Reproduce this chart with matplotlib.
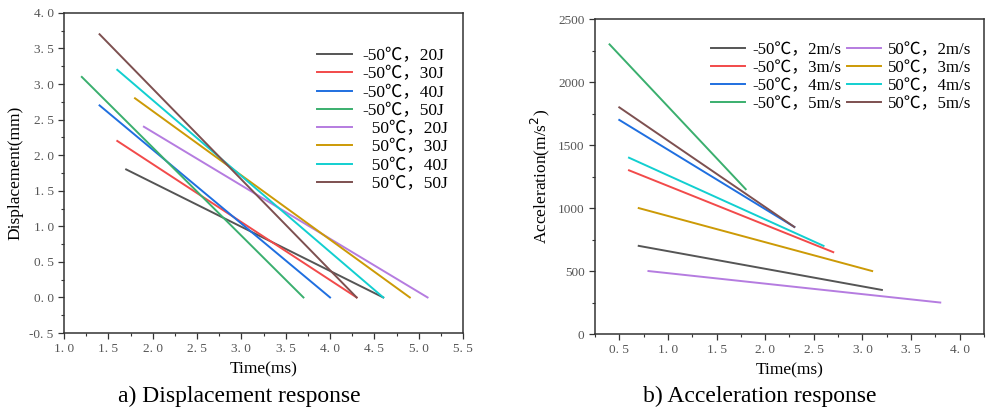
import numpy as np
import matplotlib
matplotlib.use("Agg")
import matplotlib.pyplot as plt
from matplotlib.ticker import MultipleLocator, FuncFormatter

plt.rcParams['font.family'] = ['Liberation Serif', 'Noto Sans CJK SC', 'DejaVu Sans']

colors = ['#555555', '#f24a4a', '#1f6fe0', '#3aaf6e', '#b57ce0', '#cc9a06', '#12cfd0', '#7d5050']

# displacement response: each line from (t0, d0) to (t1, d1)
disp_labels = ['-50℃，20J', '-50℃，30J', '-50℃，40J', '-50℃，50J',
               '  50℃，20J', '  50℃，30J', '  50℃，40J', '  50℃，50J']
disp_t0 = [1.7, 1.6, 1.4, 1.2, 1.9, 1.8, 1.6, 1.4]
disp_d0 = [1.8, 2.2, 2.7, 3.1, 2.4, 2.8, 3.2, 3.7]
disp_t1 = [4.6, 4.3, 4.0, 3.7, 5.1, 4.9, 4.6, 4.3]
disp_d1 = [0.0, 0.0, 0.0, 0.0, 0.0, 0.0, 0.0, 0.0]

# acceleration response
acc_labels = ['-50℃，2m/s', '-50℃，3m/s', '-50℃，4m/s', '-50℃，5m/s',
              '50℃，2m/s', '50℃，3m/s', '50℃，4m/s', '50℃，5m/s']
acc_t0 = [0.7, 0.6, 0.5, 0.4, 0.8, 0.7, 0.6, 0.5]
acc_a0 = [700, 1300, 1700, 2300, 500, 1000, 1400, 1800]
acc_t1 = [3.2, 2.7, 2.3, 1.8, 3.8, 3.1, 2.6, 2.3]
acc_a1 = [350, 650, 850, 1150, 250, 500, 700, 850]

fig = plt.figure(figsize=(9.86, 4.17), dpi=100)
ax1 = fig.add_axes([0.065, 0.2014, 0.4046, 0.7676])
ax2 = fig.add_axes([0.6034, 0.199, 0.3946, 0.755])

spaced = FuncFormatter(lambda v, p: ('%.1f' % v).replace('.', '. '))

for i in range(8):
    ax1.plot([disp_t0[i], disp_t1[i]], [disp_d0[i], disp_d1[i]], color=colors[i], lw=1.4, label=disp_labels[i])
ax1.set_xlim(1.0, 5.5)
ax1.set_ylim(-0.5, 4.0)
ax1.xaxis.set_major_locator(MultipleLocator(0.5))
ax1.xaxis.set_minor_locator(MultipleLocator(0.25))
ax1.yaxis.set_major_locator(MultipleLocator(0.5))
ax1.yaxis.set_minor_locator(MultipleLocator(0.25))
ax1.xaxis.set_major_formatter(spaced)
ax1.yaxis.set_major_formatter(spaced)
ax1.set_xlabel('Time(ms)', fontsize=12.5)
ax1.set_ylabel('Displacement(mm)', fontsize=12.5)
ax1.legend(loc='upper left', bbox_to_anchor=(0.635, 0.89), frameon=False, fontsize=12.5,
           handlelength=2.0, labelspacing=0.12, handletextpad=0.6, borderpad=0, borderaxespad=0)

for i in range(8):
    ax2.plot([acc_t0[i], acc_t1[i]], [acc_a0[i], acc_a1[i]], color=colors[i], lw=1.4, label=acc_labels[i])
ax2.set_xlim(0.25, 4.25)
ax2.set_ylim(0, 2500)
ax2.xaxis.set_major_locator(MultipleLocator(0.5))
ax2.xaxis.set_minor_locator(MultipleLocator(0.25))
ax2.yaxis.set_major_locator(MultipleLocator(500))
ax2.yaxis.set_minor_locator(MultipleLocator(250))
ax2.xaxis.set_major_formatter(spaced)
ax2.set_xlabel('Time(ms)', fontsize=12.5)
ax2.set_ylabel('Acceleration(m/s$^2$)', fontsize=12.5)
ax2.legend(loc='upper left', bbox_to_anchor=(0.298, 0.927), frameon=False, fontsize=12.2, ncol=2,
           handlelength=2.0, labelspacing=0.12, handletextpad=0.45, columnspacing=0.3,
           borderpad=0, borderaxespad=0)

for ax in (ax1, ax2):
    ax.tick_params(which='both', direction='out', top=False, right=False, colors='#333333', labelcolor='#555555')
    ax.tick_params(which='major', length=4, width=0.9)
    ax.tick_params(which='minor', length=2.5, width=0.8)
    for lab in ax.get_xticklabels() + ax.get_yticklabels():
        lab.set_fontsize(9.5)
    for s in ax.spines.values():
        s.set_linewidth(1.1)
        s.set_color('#333333')

fig.text(0.243, 0.035, 'a) Displacement response', ha='center', fontsize=17)
fig.text(0.771, 0.035, 'b) Acceleration response', ha='center', fontsize=17)

fig.savefig('out.png', dpi=100)
